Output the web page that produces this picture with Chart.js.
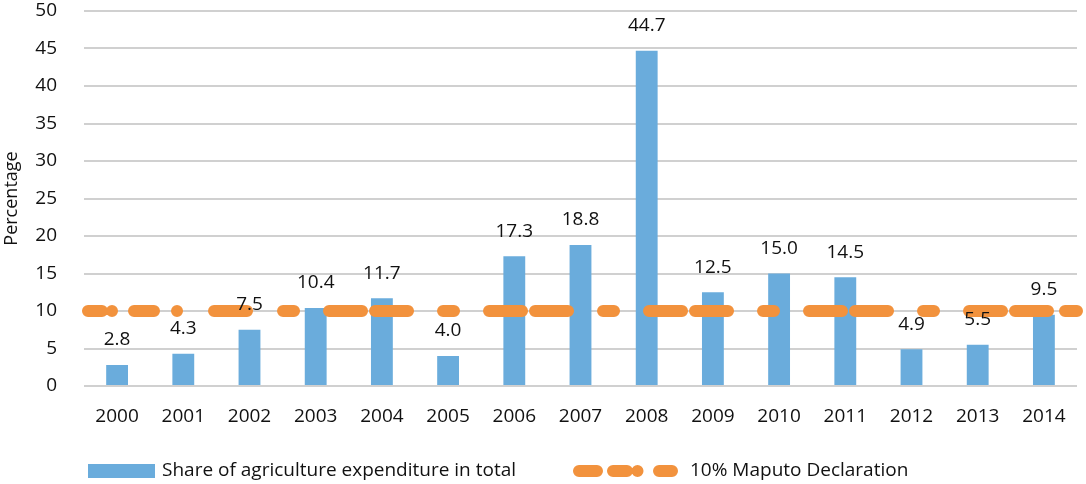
<!DOCTYPE html>
<html>
<head>
<meta charset="utf-8">
<script src="https://cdn.jsdelivr.net/npm/chart.js@4.4.1/dist/chart.umd.min.js"></script>
<style>
  html, body { margin: 0; padding: 0; background: #fff; }
  #wrap { width: 1086px; height: 484px; }
</style>
</head>
<body>
<div id="wrap"><canvas id="myChart" width="1086" height="484"></canvas></div>
<script>
// data
var years = ['2000', '2001', '2002', '2003', '2004', '2005', '2006', '2007',
  '2008', '2009', '2010', '2011', '2012', '2013', '2014'];
var agriShare = [2.8, 4.3, 7.5, 10.4, 11.7, 4.0, 17.3, 18.8, 44.7, 12.5, 15.0, 14.5, 4.9, 5.5, 9.5];
var maputoTarget = 10;
var yTicks = { min: 0, max: 50, step: 5 };

var FONT = "'Open Sans', sans-serif";
var BLUE = '#6AACDC';
var ORANGE = '#F2923D';

// irregular dash of the target line (round caps add 6px at each end)
var targetDash = [14, 10, 0.01, 22, 20, 23, 0.01, 37, 33, 36];
for (var i = 0; i < 4; i++) targetDash.push(11, 35, 33, 13, 33, 35);
targetDash.push(11, 35, 33, 13, 33, 17, 20, 200);

// value labels above each bar
var valueLabels = {
  id: 'valueLabels',
  afterDatasetsDraw: function (chart) {
    var ctx = chart.ctx;
    var meta = chart.getDatasetMeta(0);
    ctx.save();
    ctx.font = '19px ' + FONT;
    ctx.fillStyle = '#111';
    ctx.textAlign = 'center';
    ctx.textBaseline = 'middle';
    meta.data.forEach(function (bar, i) {
      ctx.fillText(agriShare[i].toFixed(1), bar.x, bar.y - 25);
    });
    ctx.restore();
  }
};

// legend drawn by hand so the markers look like the original
var bottomLegend = {
  id: 'bottomLegend',
  afterDraw: function (chart) {
    var ctx = chart.ctx;
    var ds = chart.data.datasets;
    var y = 471;
    ctx.save();
    ctx.font = '19px ' + FONT;
    ctx.textBaseline = 'middle';

    ctx.fillStyle = ds[0].backgroundColor;
    ctx.fillRect(88, y - 7, 67, 14);
    ctx.fillStyle = '#111';
    ctx.fillText(ds[0].label, 162, y);

    ctx.strokeStyle = ds[1].borderColor;
    ctx.lineWidth = 12;
    ctx.lineCap = 'round';
    ctx.setLineDash([18, 16, 14, 10.5, 0.01, 21.5, 14, 100]);
    ctx.beginPath();
    ctx.moveTo(579, y);
    ctx.lineTo(672, y);
    ctx.stroke();
    ctx.setLineDash([]);
    ctx.fillText(ds[1].label, 690, y);
    ctx.restore();
  }
};

new Chart(document.getElementById('myChart'), {
  type: 'bar',
  data: {
    labels: years,
    datasets: [
      {
        label: 'Share of agriculture expenditure in total',
        data: agriShare,
        backgroundColor: BLUE,
        barPercentage: 0.66,
        categoryPercentage: 0.5,
        grouped: false,
        order: 2
      },
      {
        type: 'line',
        label: '10% Maputo Declaration',
        xAxisID: 'x2',
        data: [{ x: 0, y: maputoTarget }, { x: 1, y: maputoTarget }],
        borderColor: ORANGE,
        borderWidth: 12,
        borderCapStyle: 'round',
        borderDash: targetDash,
        borderDashOffset: -4,
        pointRadius: 0,
        clip: false,
        order: 1
      }
    ]
  },
  options: {
    responsive: false,
    animation: false,
    layout: { padding: { top: 11, right: 9, left: 0, bottom: 0 } },
    plugins: {
      legend: { display: false },
      tooltip: { enabled: false }
    },
    scales: {
      x: {
        offset: true,
        grid: { display: false, drawTicks: false },
        border: { display: false },
        ticks: { color: '#111', font: { family: FONT, size: 19 }, padding: 19, maxRotation: 0 },
        afterFit: function (s) { s.height = 98; }
      },
      x2: {
        type: 'linear',
        min: 0,
        max: 1,
        offset: false,
        display: false
      },
      y: {
        min: yTicks.min,
        max: yTicks.max,
        ticks: { stepSize: yTicks.step, color: '#111', font: { family: FONT, size: 19 }, padding: 27 },
        grid: { color: '#D0D0D0', lineWidth: 2, drawTicks: false },
        border: { display: false },
        title: { display: true, text: 'Percentage', color: '#111', font: { family: FONT, size: 18 }, padding: { top: 1, bottom: 0 } },
        afterFit: function (s) { s.width = 84; s.paddingTop = 0; s.paddingBottom = 0; }
      }
    }
  },
  plugins: [valueLabels, bottomLegend]
});
</script>
</body>
</html>
